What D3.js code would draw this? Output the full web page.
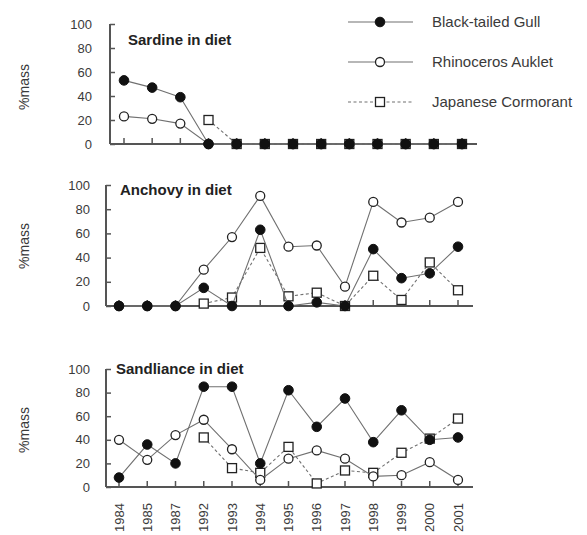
<!DOCTYPE html>
<html>
<head>
<meta charset="utf-8">
<script src="https://cdn.jsdelivr.net/npm/d3@7/dist/d3.min.js"></script>
<style>
  html, body { margin: 0; padding: 0; background: #fff; }
  svg { display: block; font-family: Arial, "Liberation Sans", sans-serif; }
</style>
</head>
<body>
<svg id="chart" width="587" height="535"></svg>
<script>
// Survey years (x categories)
const years = ["1984","1985","1987","1992","1993","1994","1995","1996","1997","1998","1999","2000","2001"];
const yTicks = [0, 20, 40, 60, 80, 100];

// Percentage of diet mass, by prey type and seabird species
const sardineGull      = [53, 47, 39, 0, 0, 0, 0, 0, 0, 0, 0, 0, 0];
const sardineAuklet    = [23, 21, 17, 0, 0, 0, 0, 0, 0, 0, 0, 0, 0];
const sardineCormorant = [null, null, null, 20, 0, 0, 0, 0, 0, 0, 0, 0, 0];

const anchovyGull      = [0, 0, 0, 15, 0, 63, 0, 3, 0, 47, 23, 27, 49];
const anchovyAuklet    = [0, 0, 0, 30, 57, 91, 49, 50, 16, 86, 69, 73, 86];
const anchovyCormorant = [null, null, null, 2, 7, 48, 8, 11, 0, 25, 5, 36, 13];

const sandlanceGull      = [8, 36, 20, 85, 85, 20, 82, 51, 75, 38, 65, 40, 42];
const sandlanceAuklet    = [40, 23, 44, 57, 32, 6, 24, 31, 24, 9, 10, 21, 6];
const sandlanceCormorant = [null, null, null, 42, 16, 12, 34, 3, 14, 12, 29, 41, 58];

const speciesNames = ["Black-tailed Gull", "Rhinoceros Auklet", "Japanese Cormorant"];

const svg = d3.select("#chart");
const lineColor = "#707070";
const axisColor = "#555";
const textColor = "#3a3a3a";

// Panel layout: axis origin, point range, baseline and top of the value scale
const panels = [
  { title: "Sardine in diet",    series: [sardineGull, sardineAuklet, sardineCormorant],
    axisX: 110, x0: 124, x1: 462, axisEnd: 477, yBottom: 144, yTop: 24,
    titleX: 128, titleY: 45, labelY: 87 },
  { title: "Anchovy in diet",    series: [anchovyGull, anchovyAuklet, anchovyCormorant],
    axisX: 106, x0: 119, x1: 458, axisEnd: 473, yBottom: 306, yTop: 185,
    titleX: 120, titleY: 195, labelY: 246 },
  { title: "Sandliance in diet", series: [sandlanceGull, sandlanceAuklet, sandlanceCormorant],
    axisX: 106, x0: 119, x1: 458, axisEnd: 473, yBottom: 487, yTop: 369,
    titleX: 116, titleY: 374, labelY: 430, showYears: true }
];

function drawMarker(g, kind, x, y) {
  if (kind === 0) {
    g.append("circle").attr("cx", x).attr("cy", y).attr("r", 4.8)
      .attr("fill", "#111").attr("stroke", "#111").attr("stroke-width", 1);
  } else if (kind === 1) {
    g.append("circle").attr("cx", x).attr("cy", y).attr("r", 4.5)
      .attr("fill", "#fff").attr("stroke", "#222").attr("stroke-width", 1.3);
  } else {
    g.append("rect").attr("x", x - 4.5).attr("y", y - 4.5).attr("width", 9).attr("height", 9)
      .attr("fill", "#fff").attr("stroke", "#222").attr("stroke-width", 1.3);
  }
}

panels.forEach(p => {
  const x = d3.scalePoint().domain(years).range([p.x0, p.x1]);
  const y = d3.scaleLinear().domain([0, 100]).range([p.yBottom, p.yTop]);
  const g = svg.append("g");

  // y axis with inward ticks
  const yAxis = d3.axisLeft(y).tickValues(yTicks).tickSize(-5).tickPadding(p.axisX === 110 ? 18 : 16);
  const ya = g.append("g").attr("transform", `translate(${p.axisX},0)`).call(yAxis);
  ya.select(".domain").attr("stroke", axisColor).attr("stroke-width", 2)
    .attr("d", `M0,${p.yTop}V${p.yBottom}`);
  ya.selectAll(".tick line").attr("stroke", axisColor).attr("stroke-width", 1.5);
  ya.selectAll(".tick text").attr("fill", textColor).style("font-size", "13px");

  // x baseline with upward ticks at each year
  g.append("line").attr("x1", p.axisX).attr("x2", p.axisEnd)
    .attr("y1", p.yBottom).attr("y2", p.yBottom)
    .attr("stroke", axisColor).attr("stroke-width", 2);
  g.selectAll(".xtick").data(years).enter().append("line")
    .attr("x1", d => x(d)).attr("x2", d => x(d))
    .attr("y1", p.yBottom).attr("y2", p.yBottom - 6)
    .attr("stroke", axisColor).attr("stroke-width", 1.5);

  if (p.showYears) {
    g.selectAll(".year").data(years).enter().append("text")
      .attr("transform", d => `translate(${x(d) + 4.5},${p.yBottom + 16}) rotate(-90)`)
      .attr("text-anchor", "end")
      .attr("fill", textColor).style("font-size", "13px")
      .text(d => d);
  }

  // series: cormorant first, then auklet, gull on top
  [2, 1, 0].forEach(k => {
    const vals = p.series[k];
    const pts = years.map((yr, i) => ({ yr, v: vals[i] }));
    const line = d3.line().defined(d => d.v !== null).x(d => x(d.yr)).y(d => y(d.v));
    g.append("path").datum(pts).attr("d", line)
      .attr("fill", "none").attr("stroke", lineColor).attr("stroke-width", 1.1)
      .attr("stroke-dasharray", k === 2 ? "3,2.5" : null);
    pts.filter(d => d.v !== null).forEach(d => drawMarker(g, k, x(d.yr), y(d.v)));
  });

  // panel title
  g.append("text").attr("x", p.titleX).attr("y", p.titleY)
    .attr("fill", "#222").style("font-size", "15px").style("font-weight", "bold")
    .text(p.title);

  // y axis label
  g.append("text")
    .attr("transform", `translate(29,${p.labelY}) rotate(-90)`)
    .attr("text-anchor", "middle").attr("fill", textColor).style("font-size", "14px")
    .text("%mass");
});

// legend
const legend = svg.append("g");
speciesNames.forEach((name, k) => {
  const ly = 22 + k * 40;
  legend.append("line").attr("x1", 348).attr("x2", 413).attr("y1", ly).attr("y2", ly)
    .attr("stroke", lineColor).attr("stroke-width", 1.1)
    .attr("stroke-dasharray", k === 2 ? "3,2.5" : null);
  drawMarker(legend, k, 380, ly);
  legend.append("text").attr("x", 432).attr("y", ly + 5)
    .attr("fill", textColor).style("font-size", "15px").text(name);
});
</script>
</body>
</html>
